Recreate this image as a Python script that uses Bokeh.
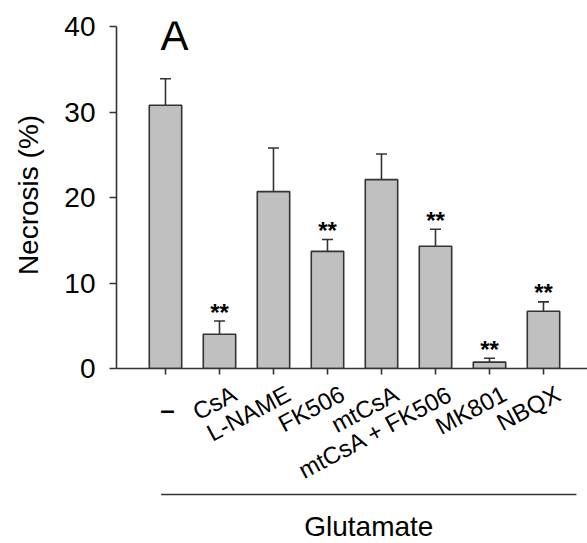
from bokeh.plotting import figure
from bokeh.layouts import column
from bokeh.models import (Range1d, FixedTicker, ColumnDataSource, Whisker, TeeHead,
                          Label, CustomJSTickFormatter)
from bokeh.core.properties import value
from bokeh.embed import file_html
from bokeh.resources import INLINE

# ---- data ----
categories = ["–", "CsA", "L-NAME", "FK506", "mtCsA", "mtCsA + FK506", "MK801", "NBQX"]
necrosis = [30.8, 4.0, 20.7, 13.7, 22.1, 14.3, 0.75, 6.7]
sem = [3.1, 1.55, 5.1, 1.4, 3.0, 2.0, 0.45, 1.1]
signif = ["", "**", "", "**", "", "**", "**", "**"]
y_ticks = [0, 10, 20, 30, 40]
group_label = "Glutamate"
panel_letter = "A"
y_label = "Necrosis (%)"

FONT = "Liberation Sans"
DARK = "#333333"
W = 587
H1 = 386          # main chart canvas height
OVERLAP = 10      # label strip starts this many px above the bottom of the main canvas
TOP2 = H1 - OVERLAP

idx = list(range(len(categories)))
upper = [v + e for v, e in zip(necrosis, sem)]
src = ColumnDataSource(dict(x=idx, top=necrosis, upper=upper, star=signif))

x_range = Range1d(-0.907, 7.815)

# ---------------- main chart ----------------
p = figure(width=W, height=H1, output_backend="svg", toolbar_location=None,
           x_range=x_range, y_range=Range1d(0, 40.6),
           min_border_left=116, min_border_right=0, min_border_top=21,
           min_border_bottom=H1 - 368)
p.outline_line_color = None
p.grid.visible = False

p.vbar(x="x", top="top", width=0.6, source=src, fill_color="#c0c0c0",
       line_color=DARK, line_width=1.6)

p.add_layout(Whisker(base="x", lower="top", upper="upper", source=src,
                     dimension="height", line_color=DARK, line_width=1.6,
                     upper_head=TeeHead(size=11, line_color=DARK, line_width=1.6),
                     lower_head=None))

p.text(x="x", y="upper", text="star", source=src, text_align="center",
       text_baseline="middle", y_offset=-9, text_font=value(FONT),
       text_font_size="24px", text_font_style="bold", text_color="black")

for ax in (p.xaxis[0], p.yaxis[0]):
    ax.axis_line_color = DARK
    ax.axis_line_width = 1.6
    ax.major_tick_line_color = DARK
    ax.major_tick_line_width = 1.6
    ax.major_tick_in = 0
    ax.minor_tick_line_color = None
    ax.major_label_text_font = FONT
    ax.major_label_text_color = "black"

p.yaxis.ticker = FixedTicker(ticks=y_ticks)
p.yaxis.bounds = (y_ticks[0], y_ticks[-1])
p.yaxis.major_tick_out = 7
p.yaxis.major_label_text_font_size = "28px"
p.yaxis.major_label_standoff = 14
p.yaxis.axis_label = y_label
p.yaxis.axis_label_text_font = FONT
p.yaxis.axis_label_text_font_size = "28px"
p.yaxis.axis_label_text_font_style = "normal"
p.yaxis.axis_label_text_color = "black"
p.yaxis.axis_label_standoff = 17

p.xaxis.ticker = FixedTicker(ticks=idx)
p.xaxis.major_tick_out = 6
p.xaxis.major_label_standoff = 0
p.xaxis.major_label_text_font_size = "0px"
p.xaxis.formatter = CustomJSTickFormatter(code="return ''")

p.add_layout(Label(x=58, x_units="screen", y=39.0, text=panel_letter,
                   text_align="center", text_baseline="middle", text_font=FONT,
                   text_font_size="42px", text_color="black"))

# ---------------- category labels & group bracket (shares the x scale) -------------
H2 = 543 - TOP2
q = figure(width=W, height=H2, output_backend="svg", toolbar_location=None,
           x_range=x_range, y_range=Range1d(H2, 0),
           x_axis_location=None, y_axis_location=None,
           min_border_left=116, min_border_right=0, min_border_top=0,
           min_border_bottom=0)
q.outline_line_color = None
q.grid.visible = False
q.background_fill_alpha = 0
q.border_fill_alpha = 0
q.styles = {"margin-top": f"-{OVERLAP}px"}

q.text(x=[idx[0]], y=[409 - TOP2], text=[categories[0]], x_offset=2, text_align="center",
       text_baseline="middle", text_font=value(FONT), text_font_size="26px",
       text_font_style="bold", text_color="black")
q.text(x=idx[1:], y=[391.5 - TOP2] * (len(idx) - 1), text=categories[1:], x_offset=15,
       angle=28, angle_units="deg", text_align="right", text_baseline="middle",
       text_font=value(FONT), text_font_size="24px", text_color="black")

x0 = idx[0] - 0.08
x1 = idx[-1] + 0.61
q.segment(x0=[x0], y0=[494 - TOP2], x1=[x1], y1=[494 - TOP2], line_color=DARK,
          line_width=1.3)
q.text(x=[(x0 + x1) / 2], y=[526 - TOP2], text=[group_label], text_align="center",
       text_baseline="middle", text_font=value(FONT), text_font_size="28px",
       text_color="black")

layout = column(p, q, spacing=0)
open("out.html", "w").write(file_html(layout, INLINE))
